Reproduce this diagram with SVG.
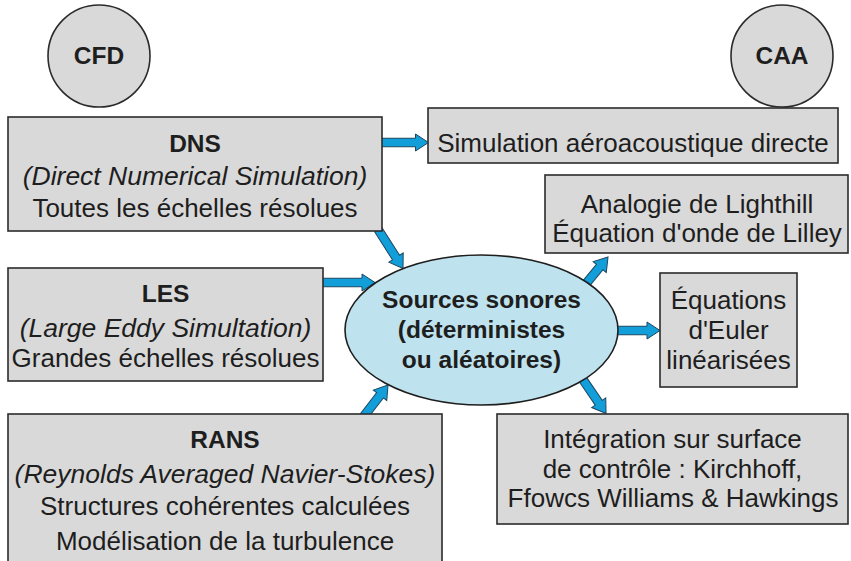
<svg xmlns="http://www.w3.org/2000/svg" width="851" height="561" viewBox="0 0 851 561">
<defs>
<style>
.box{fill:#d9d9d9;stroke:#2b2b2b;stroke-width:1.6}
.circ{fill:#d9d9d9;stroke:#2b2b2b;stroke-width:1.6}
.ell{fill:#bee3ee;stroke:#1e1e1e;stroke-width:1.6}
.arr{fill:#119ed9;stroke:#1d4660;stroke-width:1}
text{font-family:"Liberation Sans",Arial,Helvetica,sans-serif;fill:#1e1e1e;text-anchor:middle}
.t{font-size:26px}
.i{font-size:26.5px;font-style:italic}
.b{font-size:24.5px;font-weight:bold}
</style>
</defs>
<rect width="851" height="561" fill="#ffffff"/>
<g id="connectors">
<path class="arr" d="M0,-4.25 H35.5 V-8.5 L48.5,0 L35.5,8.5 V4.25 H0 Z" transform="translate(380,142.5)"/>
<path class="arr" d="M0,-4.25 H33 V-8.5 L46,0 L33,8.5 V4.25 H0 Z" transform="translate(378.3,229.7) rotate(57.5)"/>
<path class="arr" d="M0,-4.25 H41 V-8.5 L54,0 L41,8.5 V4.25 H0 Z" transform="translate(321,282.5)"/>
<path class="arr" d="M0,-4.25 H27 V-8.5 L40,0 L27,8.5 V4.25 H0 Z" transform="translate(363.5,416.6) rotate(-52.2)"/>
<path class="arr" d="M0,-4.25 H25 V-8.5 L38,0 L25,8.5 V4.25 H0 Z" transform="translate(583.8,286.3) rotate(-50.4)"/>
<path class="arr" d="M0,-4.25 H35 V-8.5 L48,0 L35,8.5 V4.25 H0 Z" transform="translate(612,330.5)"/>
<path class="arr" d="M0,-4.25 H32 V-8.5 L45,0 L32,8.5 V4.25 H0 Z" transform="translate(580.7,376.3) rotate(55.7)"/>
</g>
<g id="cfd">
<circle class="circ" cx="99" cy="56" r="51"/>
<text class="b" x="99" y="64">CFD</text>
</g>
<g id="caa">
<circle class="circ" cx="782" cy="56" r="51"/>
<text class="b" x="782" y="64">CAA</text>
</g>
<g id="dns">
<rect class="box" x="8" y="117" width="374" height="114"/>
<text class="b" x="195" y="152">DNS</text>
<text class="i" x="195" y="185">(Direct Numerical Simulation)</text>
<text class="t" x="195" y="217">Toutes les échelles résolues</text>
</g>
<g id="les">
<rect class="box" x="8" y="268" width="315" height="113"/>
<text class="b" x="165.5" y="302">LES</text>
<text class="i" x="165.5" y="337">(Large Eddy Simultation)</text>
<text class="t" x="165.5" y="367">Grandes échelles résolues</text>
</g>
<g id="rans">
<rect class="box" x="8" y="414" width="434" height="160"/>
<text class="b" x="225" y="448">RANS</text>
<text class="i" x="225" y="483">(Reynolds Averaged Navier-Stokes)</text>
<text class="t" x="225" y="515">Structures cohérentes calculées</text>
<text class="t" x="225" y="550">Modélisation de la turbulence</text>
</g>
<g id="sources">
<ellipse class="ell" cx="481.5" cy="330" rx="136.5" ry="75"/>
<text class="b" x="481.5" y="308">Sources sonores</text>
<text class="b" x="481.5" y="338">(déterministes</text>
<text class="b" x="481.5" y="368">ou aléatoires)</text>
</g>
<g id="simulation">
<rect class="box" x="428" y="108" width="410" height="55"/>
<text class="t" x="633" y="152">Simulation aéroacoustique directe</text>
</g>
<g id="lighthill">
<rect class="box" x="545" y="175" width="303" height="78"/>
<text class="t" x="697" y="213">Analogie de Lighthill</text>
<text class="t" x="697" y="242">Équation d'onde de Lilley</text>
</g>
<g id="euler">
<rect class="box" x="660" y="273" width="137" height="114"/>
<text class="t" x="728.5" y="309">Équations</text>
<text class="t" x="728.5" y="339">d'Euler</text>
<text class="t" x="728.5" y="369">linéarisées</text>
</g>
<g id="integration">
<rect class="box" x="497" y="414" width="351" height="110"/>
<text class="t" x="672.5" y="448">Intégration sur surface</text>
<text class="t" x="672.5" y="478">de contrôle : Kirchhoff,</text>
<text class="t" x="673" y="507">Ffowcs Williams &amp; Hawkings</text>
</g>
</svg>
